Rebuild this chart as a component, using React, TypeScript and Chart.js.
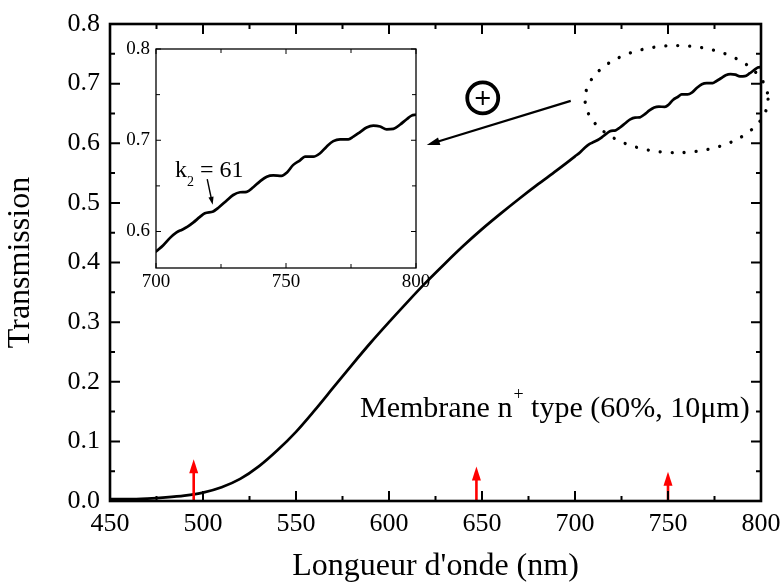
import React, { useEffect, useRef } from 'react';
import { Chart, registerables } from 'chart.js';

Chart.register(...registerables);

const FONT = '"Liberation Serif", "Times New Roman", Times, serif';

// ---- Data ----
const wavelength = [
  450, 460, 470, 480, 490, 500, 510, 520, 530, 540, 550, 560, 570, 580, 590, 600, 610, 620, 630,
  640, 650, 660, 670, 680, 690,
  700, 702.8, 705.4, 707.9, 710, 712, 714.4, 716.9, 718.8, 722, 724, 727.2, 729.7, 732.3, 734.9,
  737.4, 740, 742.6, 745.1, 748.3, 750.3, 752.8, 755.4, 757.3, 760.5, 763, 765.6, 768.2, 770.8,
  774, 775.9, 778.5, 781, 783.6, 786.2, 788.7, 791.3, 793.8, 796.4, 798.3, 800,
];
const transmission = [
  0.003, 0.003, 0.004, 0.006, 0.009, 0.014, 0.023, 0.037, 0.058, 0.085, 0.116, 0.152, 0.19, 0.228,
  0.265, 0.3, 0.334, 0.367, 0.398, 0.428, 0.456, 0.482, 0.507, 0.531, 0.554,
  0.578, 0.585, 0.593, 0.599, 0.602, 0.605, 0.61, 0.616, 0.62, 0.622, 0.626, 0.634, 0.64, 0.643,
  0.6435, 0.6485, 0.655, 0.66, 0.6615, 0.661, 0.6645, 0.673, 0.678, 0.682, 0.682, 0.6855, 0.693,
  0.699, 0.701, 0.701, 0.704, 0.709, 0.714, 0.716, 0.715, 0.712, 0.7125, 0.717, 0.723, 0.727, 0.728,
];

const mainXTicks = [450, 500, 550, 600, 650, 700, 750, 800];
const mainYTicks = [0, 0.1, 0.2, 0.3, 0.4, 0.5, 0.6, 0.7, 0.8];
const insetXTicks = [700, 750, 800];
const insetYTicks = [0.6, 0.7, 0.8];

// red arrows marking wavelengths (nm) and their tip heights
const markerWavelengths = [495, 647, 750];
const markerHeights = [0.07, 0.058, 0.049];

const xTitle = "Longueur d'onde (nm)";
const yTitle = 'Transmission';
const insetLabel = { text: 'k', sub: '2', rest: ' = 61' };
const noteLabel = { pre: 'Membrane n', sup: '+', post: ' type (60%, 10μm)' };

// annotation anchors in data units
const zoomEllipse = { cx: 754.6, cy: 0.674, rx: 49.2, ry: 0.0898 };
const zoomArrow = { x0: 697.7, y0: 0.671, x1: 620.3, y1: 0.597 };
const plusMark = { x: 650.4, y: 0.676 };
const noteAnchor = { x: 584.4, y: 0.1414 };
const kAnchor = { x: 707.3, y: 0.66 };
const kArrow = { x0: 719.7, y0: 0.6574, x1: 721.8, y1: 0.6292 };

const points = wavelength.map((x, i) => ({ x, y: transmission[i] }));
const insetPoints = points.filter((p) => p.x >= 700);

function drawArrow(ctx: CanvasRenderingContext2D, x0: number, y0: number, x1: number, y1: number, len: number, half: number) {
  const ang = Math.atan2(y1 - y0, x1 - x0);
  const bx = x1 - len * Math.cos(ang);
  const by = y1 - len * Math.sin(ang);
  ctx.beginPath();
  ctx.moveTo(x0, y0);
  ctx.lineTo(bx + 2 * Math.cos(ang), by + 2 * Math.sin(ang));
  ctx.stroke();
  ctx.beginPath();
  ctx.moveTo(x1, y1);
  ctx.lineTo(bx + half * Math.sin(ang), by - half * Math.cos(ang));
  ctx.lineTo(bx - half * Math.sin(ang), by + half * Math.cos(ang));
  ctx.closePath();
  ctx.fill();
}

function framePlugin(id: string, o: { frame: number; tick: number; major: number; minor: number }) {
  return {
    id,
    afterDraw(chart: any) {
      const { ctx, chartArea: a, scales } = chart;
      const xs = scales.x;
      const ys = scales.y;
      ctx.save();
      ctx.strokeStyle = '#000';
      ctx.lineCap = 'butt';
      ctx.lineWidth = o.tick;
      const xv = xs.ticks.map((t: any) => t.value);
      const yv = ys.ticks.map((t: any) => t.value);
      const mids = (v: number[]) => v.slice(1).map((m, i) => (m + v[i]) / 2);
      const xLine = (val: number, len: number) => {
        const p = xs.getPixelForValue(val);
        ctx.beginPath();
        ctx.moveTo(p, a.bottom);
        ctx.lineTo(p, a.bottom - len);
        ctx.moveTo(p, a.top);
        ctx.lineTo(p, a.top + len);
        ctx.stroke();
      };
      const yLine = (val: number, len: number) => {
        const p = ys.getPixelForValue(val);
        ctx.beginPath();
        ctx.moveTo(a.left, p);
        ctx.lineTo(a.left + len, p);
        ctx.moveTo(a.right, p);
        ctx.lineTo(a.right - len, p);
        ctx.stroke();
      };
      xv.forEach((v: number) => xLine(v, o.major));
      mids(xv).forEach((v) => xLine(v, o.minor));
      yv.forEach((v: number) => yLine(v, o.major));
      mids(yv).forEach((v) => yLine(v, o.minor));
      const yFirst = yv[0];
      const yStep = yv[1] - yv[0];
      if (ys.min < yFirst - yStep / 2 + 1e-9) yLine(yFirst - yStep / 2, o.minor);
      ctx.lineWidth = o.frame;
      ctx.strokeRect(a.left, a.top, a.right - a.left, a.bottom - a.top);
      ctx.restore();
    },
  };
}

const mainAnnotations = {
  id: 'mainAnnotations',
  afterDatasetsDraw(chart: any) {
    const { ctx, scales } = chart;
    const x = scales.x;
    const y = scales.y;
    ctx.save();
    markerWavelengths.forEach((w, i) => {
      const px = x.getPixelForValue(w);
      const y0 = y.getPixelForValue(0) + 1;
      const y1 = y.getPixelForValue(markerHeights[i]);
      ctx.strokeStyle = '#ff0000';
      ctx.fillStyle = '#ff0000';
      ctx.lineWidth = 2.6;
      ctx.beginPath();
      ctx.moveTo(px, y0);
      ctx.lineTo(px, y1 + 10);
      ctx.stroke();
      ctx.beginPath();
      ctx.moveTo(px, y1);
      ctx.lineTo(px - 4.5, y1 + 14);
      ctx.lineTo(px + 4.5, y1 + 14);
      ctx.closePath();
      ctx.fill();
    });
    const cx = x.getPixelForValue(zoomEllipse.cx);
    const cy = y.getPixelForValue(zoomEllipse.cy);
    const rx = Math.abs(x.getPixelForValue(zoomEllipse.cx + zoomEllipse.rx) - cx);
    const ry = Math.abs(y.getPixelForValue(zoomEllipse.cy + zoomEllipse.ry) - cy);
    ctx.strokeStyle = '#000';
    ctx.fillStyle = '#000';
    ctx.lineCap = 'round';
    ctx.lineWidth = 3.3;
    ctx.setLineDash([0.01, 12]);
    ctx.beginPath();
    ctx.ellipse(cx, cy, rx, ry, 0, 0, Math.PI * 2);
    ctx.stroke();
    ctx.setLineDash([]);
    ctx.lineCap = 'butt';
    ctx.lineWidth = 2.2;
    drawArrow(
      ctx,
      x.getPixelForValue(zoomArrow.x0),
      y.getPixelForValue(zoomArrow.y0),
      x.getPixelForValue(zoomArrow.x1),
      y.getPixelForValue(zoomArrow.y1),
      13,
      4
    );
    const px = x.getPixelForValue(plusMark.x);
    const py = y.getPixelForValue(plusMark.y);
    ctx.lineWidth = 3.8;
    ctx.beginPath();
    ctx.arc(px, py, 15.5, 0, Math.PI * 2);
    ctx.stroke();
    ctx.lineWidth = 2;
    ctx.beginPath();
    ctx.moveTo(px - 7, py);
    ctx.lineTo(px + 7, py);
    ctx.moveTo(px, py - 7);
    ctx.lineTo(px, py + 7);
    ctx.stroke();
    const nx = x.getPixelForValue(noteAnchor.x);
    const ny = y.getPixelForValue(noteAnchor.y);
    ctx.textBaseline = 'alphabetic';
    ctx.textAlign = 'left';
    ctx.font = `30px ${FONT}`;
    ctx.fillText(noteLabel.pre, nx, ny);
    let w = ctx.measureText(noteLabel.pre).width;
    ctx.font = `18px ${FONT}`;
    ctx.fillText(noteLabel.sup, nx + w + 1, ny - 17);
    w += ctx.measureText(noteLabel.sup).width + 1;
    ctx.font = `30px ${FONT}`;
    ctx.fillText(noteLabel.post, nx + w, ny);
    ctx.restore();
  },
};

const insetAnnotations = {
  id: 'insetAnnotations',
  afterDatasetsDraw(chart: any) {
    const { ctx, scales } = chart;
    const x = scales.x;
    const y = scales.y;
    ctx.save();
    ctx.fillStyle = '#000';
    ctx.strokeStyle = '#000';
    const kx = x.getPixelForValue(kAnchor.x);
    const ky = y.getPixelForValue(kAnchor.y);
    ctx.textBaseline = 'alphabetic';
    ctx.textAlign = 'left';
    ctx.font = `24px ${FONT}`;
    ctx.fillText(insetLabel.text, kx, ky);
    let w = ctx.measureText(insetLabel.text).width;
    ctx.font = `14px ${FONT}`;
    ctx.fillText(insetLabel.sub, kx + w, ky + 9);
    w += ctx.measureText(insetLabel.sub).width;
    ctx.font = `24px ${FONT}`;
    ctx.fillText(insetLabel.rest, kx + w, ky);
    ctx.lineWidth = 1.4;
    drawArrow(
      ctx,
      x.getPixelForValue(kArrow.x0),
      y.getPixelForValue(kArrow.y0),
      x.getPixelForValue(kArrow.x1),
      y.getPixelForValue(kArrow.y1),
      8,
      2.6
    );
    ctx.restore();
  },
};

function setTicks(values: number[]) {
  return (scale: any) => {
    scale.ticks = values.map((v) => ({ value: v }));
  };
}

export default function App() {
  const mainRef = useRef<HTMLCanvasElement | null>(null);
  const insetRef = useRef<HTMLCanvasElement | null>(null);

  useEffect(() => {
    Chart.defaults.font.family = FONT;
    Chart.defaults.color = '#000';

    const lineStyle = {
      borderColor: '#000',
      borderWidth: 2.7,
      pointRadius: 0,
      fill: false,
      cubicInterpolationMode: 'monotone',
      borderJoinStyle: 'round',
      borderCapStyle: 'round',
    };

    const main = new Chart(mainRef.current as HTMLCanvasElement, {
      type: 'line',
      data: { datasets: [{ data: points, ...lineStyle }] },
      options: {
        responsive: false,
        animation: false,
        events: [],
        layout: { padding: { left: 0, top: 24, right: 21, bottom: 0 } },
        plugins: { legend: { display: false }, tooltip: { enabled: false } },
        scales: {
          x: {
            type: 'linear',
            min: 450,
            max: 800,
            afterBuildTicks: setTicks(mainXTicks),
            afterFit: (s: any) => {
              s.height = 85;
              s.paddingLeft = 0;
              s.paddingRight = 0;
            },
            grid: { display: false, drawTicks: false },
            border: { display: false },
            ticks: {
              padding: 8,
              autoSkip: false,
              maxRotation: 0,
              color: '#000',
              font: { family: FONT, size: 26 },
              callback: (v: any) => String(v),
            },
            title: {
              display: true,
              text: xTitle,
              color: '#000',
              font: { family: FONT, size: 32 },
              padding: { top: 0, bottom: 0 },
            },
          },
          y: {
            type: 'linear',
            min: 0,
            max: 0.8,
            afterBuildTicks: setTicks(mainYTicks),
            afterFit: (s: any) => {
              s.width = 110;
              s.paddingTop = 0;
              s.paddingBottom = 0;
            },
            grid: { display: false, drawTicks: false },
            border: { display: false },
            ticks: {
              padding: 10,
              autoSkip: false,
              color: '#000',
              font: { family: FONT, size: 26 },
              callback: (v: any) => Number(v).toFixed(1),
            },
            title: {
              display: true,
              text: yTitle,
              color: '#000',
              font: { family: FONT, size: 32 },
              padding: { top: 1, bottom: 0 },
            },
          },
        },
      } as any,
      plugins: [mainAnnotations, framePlugin('mainFrame', { frame: 2.6, tick: 2, major: 10, minor: 5 })],
    });

    const inset = new Chart(insetRef.current as HTMLCanvasElement, {
      type: 'line',
      data: { datasets: [{ data: insetPoints, ...lineStyle }] },
      options: {
        responsive: false,
        animation: false,
        events: [],
        layout: { padding: { left: 0, top: 19, right: 14, bottom: 0 } },
        plugins: { legend: { display: false }, tooltip: { enabled: false } },
        scales: {
          x: {
            type: 'linear',
            min: 700,
            max: 800,
            afterBuildTicks: setTicks(insetXTicks),
            afterFit: (s: any) => {
              s.height = 42;
              s.paddingLeft = 0;
              s.paddingRight = 0;
            },
            grid: { display: false, drawTicks: false },
            border: { display: false },
            ticks: {
              padding: 3,
              autoSkip: false,
              maxRotation: 0,
              color: '#000',
              font: { family: FONT, size: 19 },
              callback: (v: any) => String(v),
            },
          },
          y: {
            type: 'linear',
            min: 0.56,
            max: 0.8,
            afterBuildTicks: setTicks(insetYTicks),
            afterFit: (s: any) => {
              s.width = 56;
              s.paddingTop = 0;
              s.paddingBottom = 0;
            },
            grid: { display: false, drawTicks: false },
            border: { display: false },
            ticks: {
              padding: 6,
              autoSkip: false,
              color: '#000',
              font: { family: FONT, size: 19 },
              callback: (v: any) => Number(v).toFixed(1),
            },
          },
        },
      } as any,
      plugins: [insetAnnotations, framePlugin('insetFrame', { frame: 1.3, tick: 1, major: 5, minor: 4 })],
    });

    return () => {
      main.destroy();
      inset.destroy();
    };
  }, []);

  return (
    <div style={{ position: 'absolute', left: 0, top: 0, width: 782, height: 586, background: '#fff' }}>
      <canvas
        ref={mainRef}
        width={782}
        height={586}
        style={{ position: 'absolute', left: 0, top: 0, width: 782, height: 586 }}
      />
      <canvas
        ref={insetRef}
        width={330}
        height={280}
        style={{ position: 'absolute', left: 100, top: 30, width: 330, height: 280 }}
      />
    </div>
  );
}
